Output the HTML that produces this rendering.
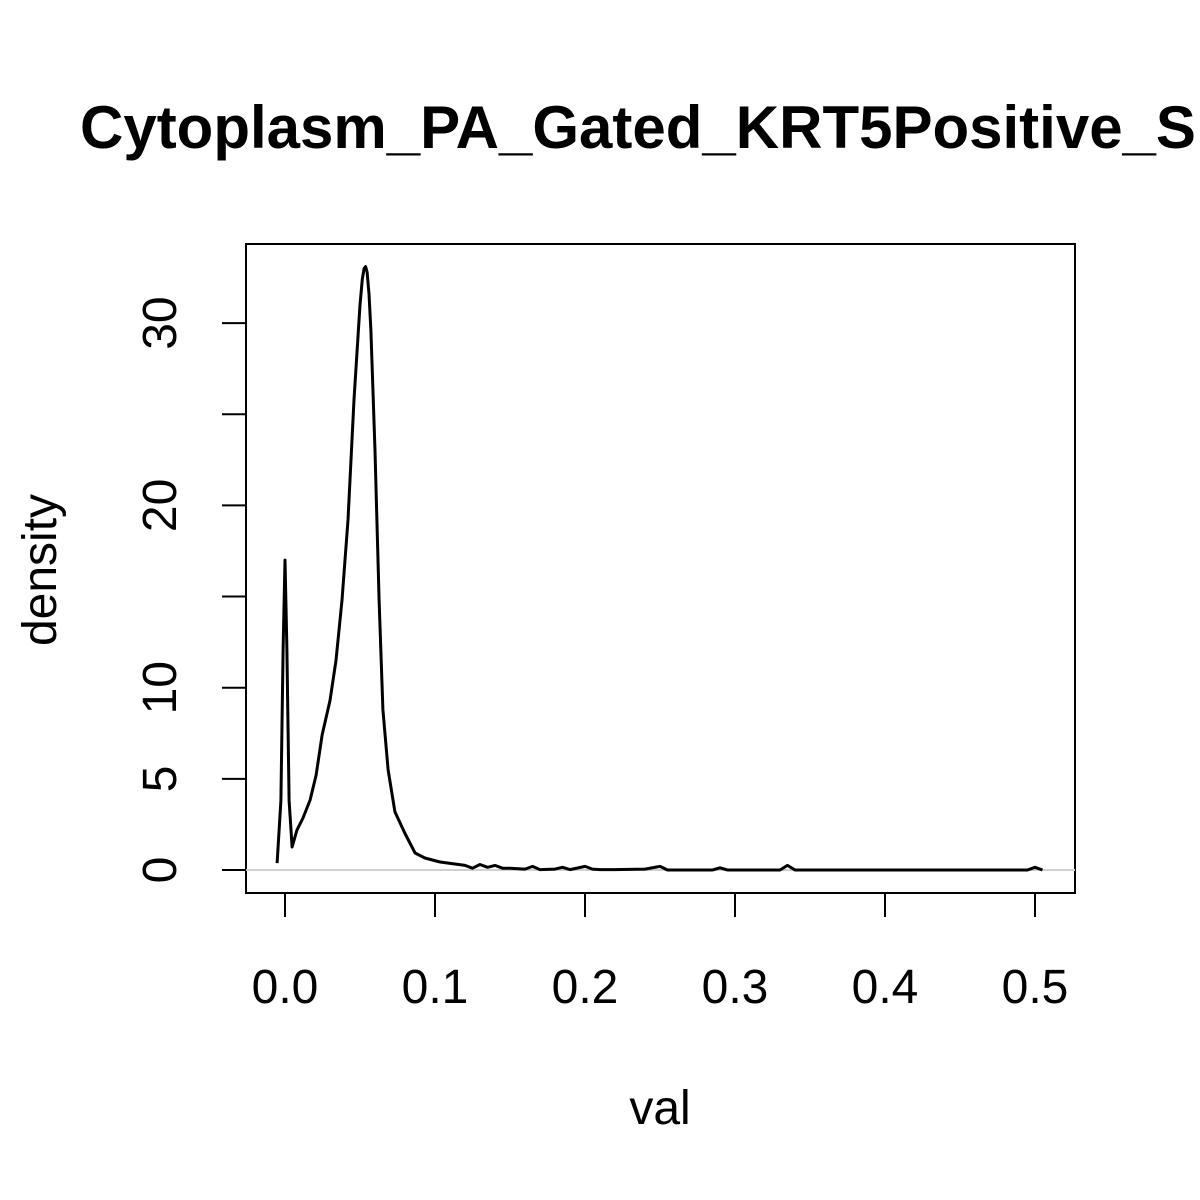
<!DOCTYPE html>
<html><head><meta charset="utf-8"><style>
html,body{margin:0;padding:0;background:#fff;}
svg{display:block;font-family:"Liberation Sans",Arial,sans-serif;}
</style></head><body>
<svg id="chart" width="1200" height="1200" viewBox="0 0 1200 1200">
<text x="80" y="148" font-size="60" font-weight="bold">Cytoplasm_PA_Gated_KRT5Positive_S</text>
<rect x="246" y="244" width="829" height="649" fill="none" stroke="#000" stroke-width="2"/>
<g id="xaxis"></g>
<g id="yaxis"></g>
<line x1="246" x2="1075" y1="870" y2="870" stroke="#d0d0d0" stroke-width="2"/>
<path id="curve" fill="none" stroke="#000" stroke-width="3" stroke-linejoin="round"/>
<text x="660" y="1124" font-size="48" text-anchor="middle">val</text>
<text transform="translate(56,570) rotate(-90)" font-size="48" text-anchor="middle">density</text>
</svg>
<script>
const xVals=[-0.0053,-0.0027,-0.0013,0,0.0013,0.0027,0.0047,0.008,0.012,0.0167,0.0207,0.0247,0.030,0.034,0.038,0.042,0.046,0.050,0.0515,0.0527,0.0537,0.0547,0.056,0.0573,0.060,0.0627,0.0653,0.0687,0.0733,0.080,0.0867,0.0933,0.1033,0.1133,0.12,0.125,0.13,0.135,0.14,0.145,0.15,0.16,0.165,0.17,0.18,0.185,0.19,0.2,0.205,0.21,0.22,0.24,0.25,0.255,0.285,0.29,0.295,0.33,0.335,0.34,0.495,0.5,0.505];
const yVals=[0.38,3.8,12.1,17.0,12.1,3.8,1.26,2.2,2.85,3.84,5.2,7.4,9.3,11.5,14.8,19.2,25.8,31.0,32.4,33.0,33.1,32.8,31.6,29.6,23.0,14.8,8.8,5.5,3.2,2.0,0.93,0.66,0.44,0.33,0.25,0.1,0.3,0.15,0.25,0.1,0.1,0.05,0.2,0.02,0.05,0.15,0.02,0.2,0.05,0.02,0.02,0.05,0.2,0,0,0.12,0,0,0.25,0,0,0.15,0];
const xTicks=[0,0.1,0.2,0.3,0.4,0.5];
const xTickLabels=["0.0","0.1","0.2","0.3","0.4","0.5"];
const yTicks=[0,5,10,15,20,25,30];
const yTickLabels=["0","5","10","","20","","30"];
const sx=v=>285+v*1500;
const sy=v=>870-v*18.23;
const NS="http://www.w3.org/2000/svg";
const xa=document.getElementById('xaxis'),ya=document.getElementById('yaxis');
function mk(t,a,p){const e=document.createElementNS(NS,t);for(const k in a)e.setAttribute(k,a[k]);p.appendChild(e);return e;}
xTicks.forEach((t,i)=>{
 const l=mk('line',{x1:sx(t),x2:sx(t),y1:893,y2:917,stroke:'#000','stroke-width':2},xa);
 
 
 const tx=mk('text',{x:sx(t),y:1003,'font-size':48,'text-anchor':'middle'},xa);
 tx.textContent=xTickLabels[i];
 
 
});
yTicks.forEach((t,i)=>{
 const l=mk('line',{x1:222,x2:246,y1:sy(t),y2:sy(t),stroke:'#000','stroke-width':2},ya);
 
 
 if(yTickLabels[i]){
  const tx=mk('text',{transform:`translate(176,${sy(t)}) rotate(-90)`,'font-size':48,'text-anchor':'middle'},ya);
  tx.textContent=yTickLabels[i];
  
  
 }
});
document.getElementById('curve').setAttribute('d',xVals.map((x,i)=>(i?'L':'M')+sx(x).toFixed(1)+','+sy(yVals[i]).toFixed(1)).join(' '));
</script>
</body></html>
